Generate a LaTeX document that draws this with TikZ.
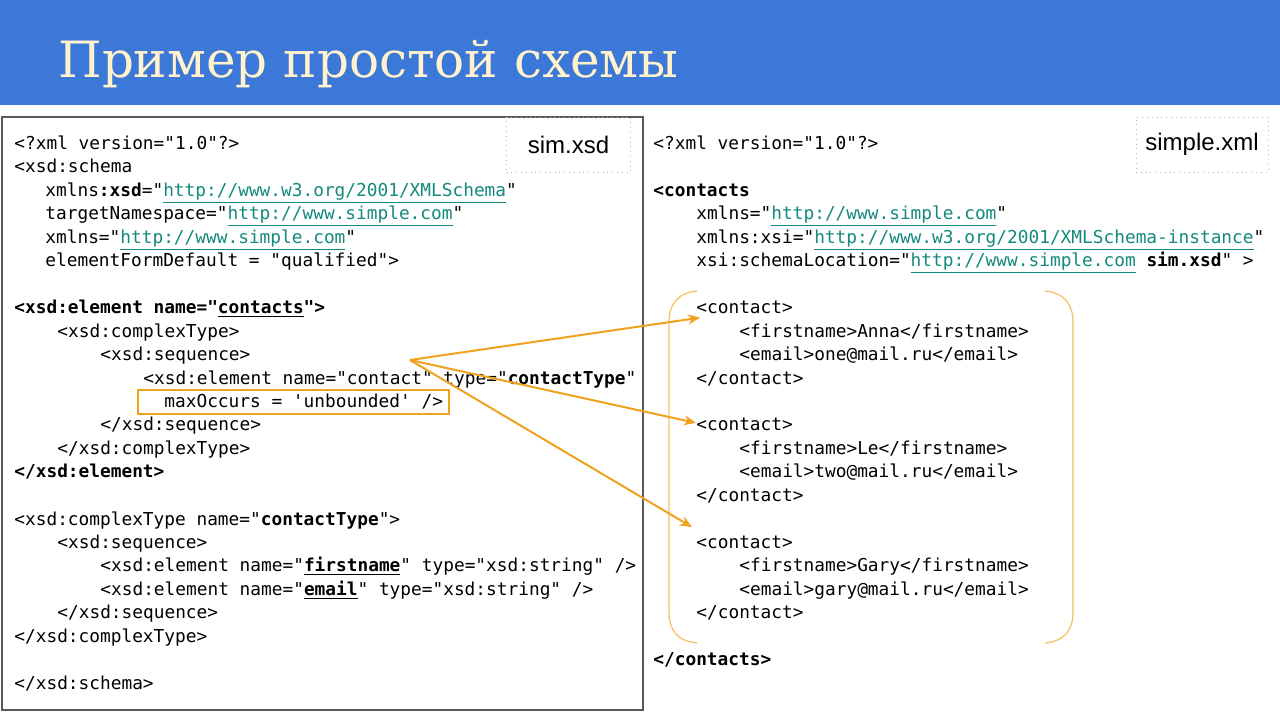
\documentclass[tikz,border=0pt]{standalone}
\usepackage{fontspec}
\setmainfont{Liberation Sans}
\setmonofont{DejaVu Sans Mono}
\newfontfamily\titlefont{DejaVu Serif}
\usetikzlibrary{arrows.meta}
\definecolor{band}{HTML}{3C78D8}
\definecolor{cream}{HTML}{FFF2CC}
\definecolor{link}{HTML}{138A7C}
\definecolor{org}{HTML}{F0A21E}
\newcommand\lnk[1]{{\color{link}\underline{#1}}}
\newcommand\ub[1]{\underline{\textbf{#1}}}
\begin{document}
\begin{tikzpicture}[x=0.5pt,y=-0.5pt,
  code/.style={anchor=base west,inner sep=0pt,font=\ttfamily\fontsize{8.9}{10}\selectfont},
  arr/.style={org,line width=1pt,-{Stealth[length=6pt,width=5pt]}}]
\useasboundingbox (0,0) rectangle (1280,720);
\fill[white] (0,0) rectangle (1280,720);
\fill[band] (0,0) rectangle (1280,105);
\node[anchor=base west,inner sep=0pt,text=cream,font=\titlefont\fontsize{25}{29}\selectfont] (title) at (58,77) {Пример простой схемы};
% left panel
\draw[gray!70!black,line width=0.6pt] (2,117) rectangle (643,710);
\node[draw=gray!60,dotted,minimum width=62pt,minimum height=27.5pt,inner sep=0pt,font=\fontsize{12}{14}\selectfont] (lab1) at (568.5,144.5) {sim.xsd};
\node[code] (l1) at (14,149) {<?xml version="1.0"?>};
\node[code] (l2) at (14,172) {<xsd:schema};
\node[code] (l3) at (45,196) {xmlns\textbf{:xsd}="\lnk{http://www.w3.org/2001/XMLSchema}"};
\node[code] (l4) at (45,219) {targetNamespace="\lnk{http://www.simple.com}"};
\node[code] (l5) at (45,243) {xmlns="\lnk{http://www.simple.com}"};
\node[code] (l6) at (45,266) {elementFormDefault = "qualified">};
\node[code] (l7) at (14,313) {\textbf{<xsd:element name="\ub{contacts}">}};
\node[code] (l8) at (57,337) {<xsd:complexType>};
\node[code] (l9) at (100,360) {<xsd:sequence>};
\node[code] (l10) at (143,384) {<xsd:element name="contact" type="\textbf{contactType}"};
\node[code] (l11) at (164,407) {maxOccurs = 'unbounded' />};
\node[code] (l12) at (100,430) {</xsd:sequence>};
\node[code] (l13) at (57,454) {</xsd:complexType>};
\node[code] (l14) at (14,477) {\textbf{</xsd:element>}};
\node[code] (l15) at (14,525) {<xsd:complexType name="\textbf{contactType}">};
\node[code] (l16) at (57,548) {<xsd:sequence>};
\node[code] (l17) at (100,571) {<xsd:element name="\ub{firstname}" type="xsd:string" />};
\node[code] (l18) at (100,595) {<xsd:element name="\ub{email}" type="xsd:string" />};
\node[code] (l19) at (57,618) {</xsd:sequence>};
\node[code] (l20) at (14,642) {</xsd:complexType>};
\node[code] (l21) at (14,689) {</xsd:schema>};
\draw[org,line width=0.8pt] (138,390) rectangle (449,414);
% right panel
\node[draw=gray!60,dotted,minimum width=66pt,minimum height=27.5pt,inner sep=0pt,font=\fontsize{12}{14}\selectfont] (lab2) at (1202,144.5) {simple.xml};
\node[code] (r1) at (653,149) {<?xml version="1.0"?>};
\node[code] (r2) at (653,196) {\textbf{<contacts}};
\node[code] (r3) at (696,219) {xmlns="\lnk{http://www.simple.com}"};
\node[code] (r4) at (696,243) {xmlns:xsi="\lnk{http://www.w3.org/2001/XMLSchema-instance}"};
\node[code] (r5) at (696,266) {xsi:schemaLocation="\lnk{http://www.simple.com} \textbf{sim.xsd}" >};
\node[code] (c1) at (696,313) {<contact>};
\node[code] (r6) at (739,337) {<firstname>Anna</firstname>};
\node[code] (r7) at (739,360) {<email>one@mail.ru</email>};
\node[code] (r8) at (696,384) {</contact>};
\node[code] (c2) at (696,430) {<contact>};
\node[code] (r9) at (739,454) {<firstname>Le</firstname>};
\node[code] (r10) at (739,477) {<email>two@mail.ru</email>};
\node[code] (r11) at (696,501) {</contact>};
\node[code] (c3) at (696,548) {<contact>};
\node[code] (r12) at (739,571) {<firstname>Gary</firstname>};
\node[code] (r13) at (739,595) {<email>gary@mail.ru</email>};
\node[code] (r14) at (696,618) {</contact>};
\node[code] (r15) at (653,665) {\textbf{</contacts>}};
% brackets
\draw[org!70,line width=0.6pt] (697,291) .. controls (677,293) and (669,305) .. (669,322) -- (669,612) .. controls (669,630) and (677,641) .. (697,643);
\draw[org!70,line width=0.6pt] (1045,291) .. controls (1065,293) and (1073,305) .. (1073,322) -- (1073,612) .. controls (1073,630) and (1065,641) .. (1045,643);
% arrows
\coordinate (src) at (410,360);
\draw[arr] (src) -- ([shift={(4,4)}]c1.south west);
\draw[arr] (src) -- ([shift={(0,-1)}]c2.west);
\draw[arr] (src) -- ([shift={(-4,-8)}]c3.north west);
\end{tikzpicture}
\end{document}
